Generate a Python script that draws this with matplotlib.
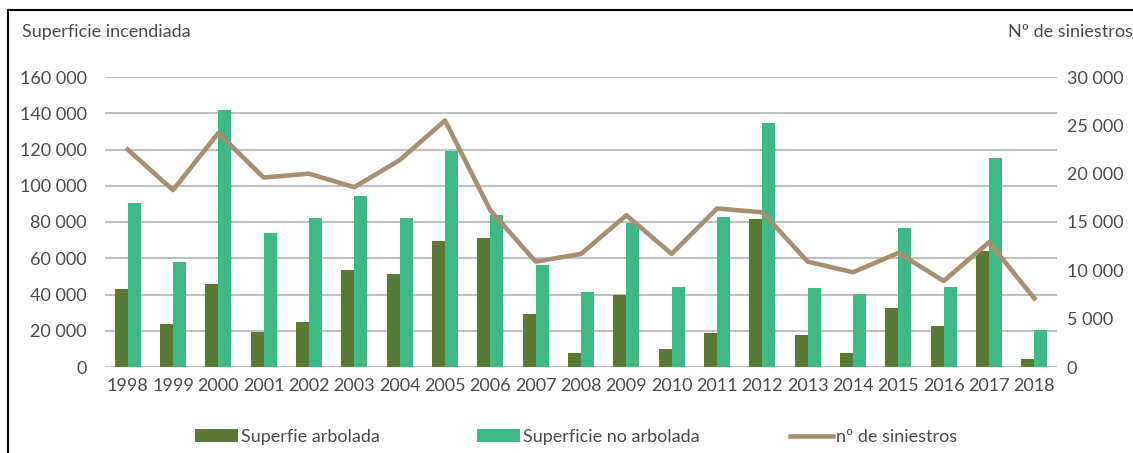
import matplotlib.pyplot as plt
from matplotlib.lines import Line2D
from matplotlib.patches import Patch
from matplotlib.ticker import FuncFormatter
import numpy as np

years = [str(y) for y in range(1998, 2019)]
sup_arbolada = [43000, 24000, 46000, 19500, 25000, 53500, 51500, 69500, 71000, 29000,
                8000, 40000, 10000, 18500, 81500, 17500, 8000, 32800, 22500, 64000, 4300]
sup_no_arbolada = [90500, 58000, 142000, 74000, 82000, 94200, 82200, 119000, 84000, 56500,
                   41600, 79500, 44200, 83000, 134700, 43800, 40200, 76800, 44400, 115300, 20300]
siniestros = [22500, 18300, 24200, 19600, 20000, 18600, 21400, 25500, 16200, 10900,
              11700, 15700, 11700, 16400, 16000, 10900, 9800, 11800, 8900, 12900, 7100]

DARK = '#5a7a34'
LIGHT = '#3dba86'
TAN = '#a8906e'
GRID = '#c0c0c0'
TXT = '#4a4a4a'

plt.rcParams['font.family'] = ['Lato', 'DejaVu Sans']
FS = 13


def miles(v, pos):
    return f"{int(v):,}".replace(',', ' ')


W, H = 1133, 453
fig = plt.figure(figsize=(W / 100, H / 100), dpi=100)
ax = fig.add_axes([105 / W, (H - 367) / H, 952 / W, 290 / H])

x = np.arange(len(years))
bw = 0.29
ax.bar(x - bw / 2, sup_arbolada, bw, color=DARK, zorder=2)
ax.bar(x + bw / 2, sup_no_arbolada, bw, color=LIGHT, zorder=2)

ax.set_xlim(-0.5, len(years) - 0.5)
ax.set_ylim(0, 160000)
ax.set_yticks(range(0, 160001, 20000))
ax.yaxis.set_major_formatter(FuncFormatter(miles))
ax.set_xticks(x)
ax.set_xticklabels(years)
ax.grid(axis='y', color=GRID, linewidth=1.5, zorder=0)
for s in ax.spines.values():
    s.set_visible(False)
ax.tick_params(axis='both', length=0, labelsize=FS, colors=TXT)
ax.tick_params(axis='y', pad=13)
ax.tick_params(axis='x', pad=8)

ax2 = ax.twinx()
ax2.plot(x, siniestros, color=TAN, linewidth=3.3, zorder=3)
ax2.set_ylim(0, 30000)
ax2.set_yticks(range(0, 30001, 5000))
ax2.yaxis.set_major_formatter(FuncFormatter(miles))
for s in ax2.spines.values():
    s.set_visible(False)
ax2.tick_params(axis='y', length=0, labelsize=FS, colors=TXT, pad=7)

fig.text(22 / W, 1 - 32 / H, 'Superficie incendiada', fontsize=FS, color=TXT,
         ha='left', va='center')
fig.text(1133 / W, 1 - 32 / H, 'Nº de siniestros', fontsize=FS, color=TXT,
         ha='right', va='center')

# legend entries placed one by one along the bottom
entries = [
    (Patch(facecolor=DARK), 'Superfie arbolada', 195),
    (Patch(facecolor=LIGHT), 'Superficie no arbolada', 477),
    (Line2D([], [], color=TAN, linewidth=3.3), 'nº de siniestros', 790),
]
for handle, label, xpos in entries:
    fig.legend([handle], [label], loc='center left',
               bbox_to_anchor=(xpos / W, 1 - 437 / H), frameon=False,
               fontsize=FS, handlelength=2.4, handleheight=0.7,
               handletextpad=0.15, borderpad=0, borderaxespad=0,
               labelcolor=TXT)

# frame lines on the top and left edges
fig.add_artist(Line2D([8 / W, 1], [1 - 10 / H, 1 - 10 / H], color='black',
                      linewidth=1.5, transform=fig.transFigure))
fig.add_artist(Line2D([8 / W, 8 / W], [0, 1 - 10 / H], color='black',
                      linewidth=1.5, transform=fig.transFigure))

fig.savefig('out.png', dpi=100)
